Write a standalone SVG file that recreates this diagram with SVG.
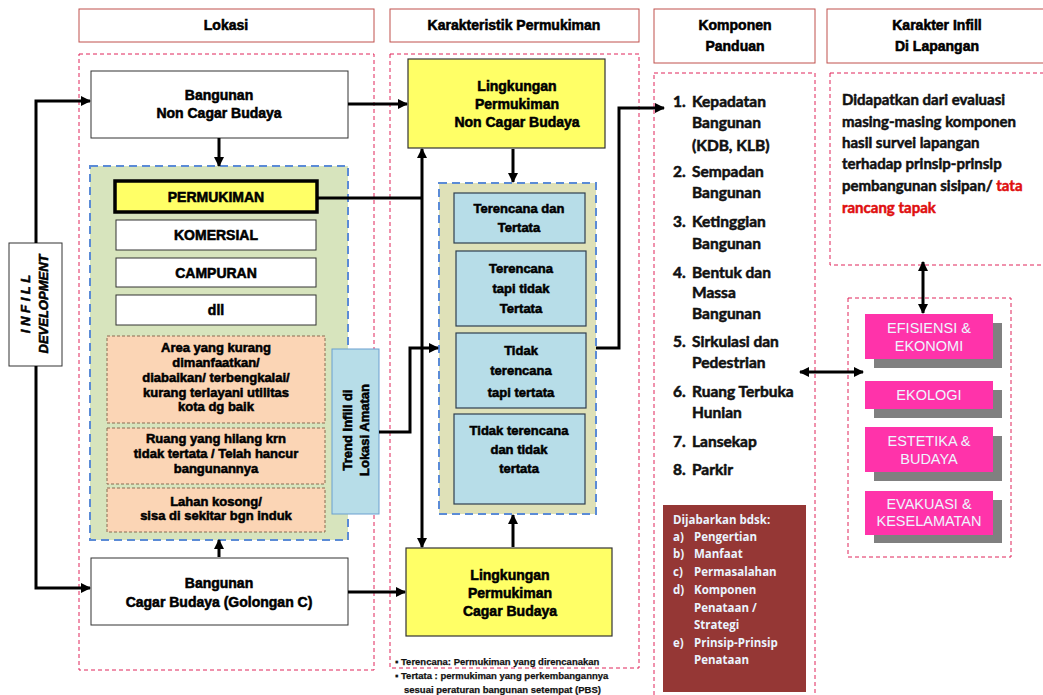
<svg xmlns="http://www.w3.org/2000/svg" width="1043" height="695" viewBox="0 0 1043 695">
  <style>
    .bg { fill: #ffffff; }
    .head { fill: #ffffff; stroke: #c0504d; stroke-width: 1; }
    .zone { fill: none; stroke: #e0245a; stroke-width: 1; stroke-dasharray: 4 3; }
    .bluezone { stroke: #5b8bd6; stroke-width: 2; stroke-dasharray: 8 5; }
    .box { fill: #ffffff; stroke: #333333; stroke-width: 1; }
    .yellow { fill: #ffff66; stroke: #333333; stroke-width: 1.2; }
    .peach { fill: #fbd5b5; stroke: #8a6a50; stroke-width: 1; stroke-dasharray: 3 2; }
    .lblue { fill: #b7dde8; stroke: #2f3f4f; stroke-width: 1.2; }
    .pink { fill: #ff33aa; }
    .shadow { fill: #808080; }
    .t { font-family: "Liberation Sans", Arial, sans-serif; font-weight: bold; fill: #000000; stroke: #000000; stroke-width: 0.55; text-anchor: middle; }
    .h { font-size: 14px; }
    .n { font-size: 14px; }
    .s { font-size: 13px; }
    .list { font-family: Lato, "Liberation Sans", sans-serif; font-weight: bold; font-size: 15.5px; fill: #111111; stroke: #111111; stroke-width: 0.55; }
    .info { font-family: Lato, "Liberation Sans", sans-serif; font-weight: bold; font-size: 15px; fill: #111111; stroke: #111111; stroke-width: 0.5; }
    .red { fill: #e01010; stroke: #e01010; }
    .note { font-family: "Liberation Sans", Arial, sans-serif; font-weight: bold; font-size: 9.5px; fill: #111111; stroke: #111111; stroke-width: 0.25; }
    .sub { font-family: "Open Sans", "Liberation Sans", sans-serif; font-weight: bold; font-size: 11.5px; fill: #eaf4ff; }
    .val { font-family: "Liberation Sans", Arial, sans-serif; font-size: 14.5px; fill: #eef6ff; text-anchor: middle; }
    .wire { fill: none; stroke: #000000; stroke-width: 3; }
  </style>
  <defs>
    <marker id="arrow" viewBox="0 0 10 10" refX="9" refY="5" markerWidth="10" markerHeight="10" markerUnits="userSpaceOnUse" orient="auto-start-reverse">
      <path d="M0,0 L10,5 L0,10 z" fill="#000000"/>
    </marker>
  </defs>

  <rect class="bg" x="0" y="0" width="1043" height="695"/>

  <!-- column headers -->
  <g id="header-lokasi">
    <rect class="head" x="79" y="9" width="295" height="33"/>
    <text class="t h" x="226" y="30">Lokasi</text>
  </g>
  <g id="header-karakteristik">
    <rect class="head" x="390" y="9" width="249" height="33"/>
    <text class="t h" x="514" y="30">Karakteristik Permukiman</text>
  </g>
  <g id="header-komponen">
    <rect class="head" x="654" y="9" width="161" height="54"/>
    <text class="t h" x="735" y="30">Komponen</text>
    <text class="t h" x="735" y="51">Panduan</text>
  </g>
  <g id="header-karakter-infill">
    <rect class="head" x="827" y="9" width="230" height="54"/>
    <text class="t h" x="937" y="30">Karakter Infill</text>
    <text class="t h" x="937" y="51">Di Lapangan</text>
  </g>

  <!-- dashed column frames -->
  <g id="frames">
    <rect class="zone" x="79" y="54" width="295" height="616"/>
    <rect class="zone" x="390" y="54" width="249" height="614"/>
    <rect class="zone" x="654" y="73" width="161" height="640"/>
    <rect class="zone" x="830" y="73" width="230" height="192"/>
    <rect class="zone" x="848" y="298" width="163" height="259"/>
  </g>

  <!-- left column: location -->
  <g id="infill-development">
    <rect class="box" x="9" y="243" width="53" height="123"/>
    <text class="t" font-size="13" font-style="italic" transform="translate(30,304) rotate(-90)">I N F I L L</text>
    <text class="t" font-size="13" font-style="italic" transform="translate(48,304) rotate(-90)">DEVELOPMENT</text>
  </g>

  <g id="bangunan-non-cagar">
    <rect class="box" x="91" y="71" width="257" height="67"/>
    <text class="t n" x="219" y="100">Bangunan</text>
    <text class="t n" x="219" y="118">Non Cagar Budaya</text>
  </g>

  <g id="jenis-lahan">
    <rect class="bluezone" fill="#d7e4bd" x="90" y="166" width="258" height="374"/>
  </g>
  <g id="permukiman">
    <rect fill="#ffff66" stroke="#000000" stroke-width="3.5" x="115" y="181" width="202" height="31"/>
    <text class="t n" x="216" y="202">PERMUKIMAN</text>
  </g>
  <g id="komersial">
    <rect class="box" x="116" y="220" width="200" height="30"/>
    <text class="t n" x="216" y="240">KOMERSIAL</text>
  </g>
  <g id="campuran">
    <rect class="box" x="116" y="258" width="200" height="29"/>
    <text class="t n" x="216" y="278">CAMPURAN</text>
  </g>
  <g id="dll">
    <rect class="box" x="116" y="295" width="200" height="30"/>
    <text class="t n" x="216" y="315">dll</text>
  </g>
  <g id="area-kurang">
    <rect class="peach" x="107" y="336" width="218" height="87"/>
    <text class="t s" x="216" y="352">Area yang kurang</text>
    <text class="t s" x="216" y="367">dimanfaatkan/</text>
    <text class="t s" x="216" y="382">diabaikan/ terbengkalai/</text>
    <text class="t s" x="216" y="397">kurang terlayani utilitas</text>
    <text class="t s" x="216" y="411">kota dg baik</text>
  </g>
  <g id="ruang-hilang">
    <rect class="peach" x="107" y="428" width="218" height="56"/>
    <text class="t s" x="216" y="443">Ruang yang hilang krn</text>
    <text class="t s" x="216" y="458">tidak tertata / Telah hancur</text>
    <text class="t s" x="216" y="473">bangunannya</text>
  </g>
  <g id="lahan-kosong">
    <rect class="peach" x="107" y="488" width="218" height="44"/>
    <text class="t s" x="216" y="506">Lahan kosong/</text>
    <text class="t s" x="216" y="520">sisa  di sekitar  bgn induk</text>
  </g>
  <g id="trend-infill">
    <rect fill="#b7dde8" stroke="#6a9fd0" stroke-width="1" x="332" y="349" width="47" height="165"/>
    <text class="t s" transform="translate(352,430) rotate(-90)">Trend Infill di</text>
    <text class="t s" transform="translate(369,430) rotate(-90)">Lokasi Amatan</text>
  </g>

  <g id="bangunan-cagar">
    <rect class="box" x="91" y="558" width="257" height="67"/>
    <text class="t n" x="219" y="588">Bangunan</text>
    <text class="t n" x="219" y="607">Cagar Budaya  (Golongan C)</text>
  </g>

  <!-- middle column: settlement character -->
  <g id="lingkungan-non-cagar">
    <rect class="yellow" x="408" y="59" width="197" height="89"/>
    <text class="t n" x="517" y="91">Lingkungan</text>
    <text class="t n" x="517" y="109">Permukiman</text>
    <text class="t n" x="517" y="127">Non Cagar  Budaya</text>
  </g>

  <g id="tipologi">
    <rect class="bluezone" fill="#dfe1b8" x="439" y="183" width="157" height="331"/>
  </g>
  <g id="terencana-tertata">
    <rect class="lblue" x="454" y="193" width="131" height="50"/>
    <text class="t s" x="519" y="213">Terencana dan</text>
    <text class="t s" x="519" y="232">Tertata</text>
  </g>
  <g id="terencana-tidak-tertata">
    <rect class="lblue" x="456" y="251" width="130" height="75"/>
    <text class="t s" x="521" y="273">Terencana</text>
    <text class="t s" x="521" y="293">tapi tidak</text>
    <text class="t s" x="521" y="313">Tertata</text>
  </g>
  <g id="tidak-terencana-tertata">
    <rect class="lblue" x="456" y="333" width="130" height="75"/>
    <text class="t s" x="521" y="355">Tidak</text>
    <text class="t s" x="521" y="375">terencana</text>
    <text class="t s" x="521" y="397">tapi tertata</text>
  </g>
  <g id="tidak-terencana-tidak-tertata">
    <rect class="lblue" x="454" y="414" width="131" height="90"/>
    <text class="t s" x="519" y="435">Tidak terencana</text>
    <text class="t s" x="519" y="454">dan tidak</text>
    <text class="t s" x="519" y="473">tertata</text>
  </g>

  <g id="lingkungan-cagar">
    <rect class="yellow" x="406" y="548" width="206" height="88"/>
    <text class="t n" x="510" y="580">Lingkungan</text>
    <text class="t n" x="510" y="598">Permukiman</text>
    <text class="t n" x="510" y="616">Cagar Budaya</text>
  </g>

  <g id="keterangan">
    <text class="note" x="395" y="665">▪  Terencana: Permukiman yang direncanakan</text>
    <text class="note" x="395" y="679">▪  Tertata : permukiman yang perkembangannya</text>
    <text class="note" x="404" y="693">sesuai peraturan bangunan setempat (PBS)</text>
  </g>

  <!-- third column: guideline components -->
  <g id="komponen-list">
    <text class="list" x="673" y="107">1.</text>
    <text class="list" x="692" y="107">Kepadatan</text>
    <text class="list" x="692" y="128">Bangunan</text>
    <text class="list" x="692" y="151">(KDB, KLB)</text>
    <text class="list" x="673" y="177">2.</text>
    <text class="list" x="692" y="177">Sempadan</text>
    <text class="list" x="692" y="198">Bangunan</text>
    <text class="list" x="673" y="227">3.</text>
    <text class="list" x="692" y="227">Ketinggian</text>
    <text class="list" x="692" y="249">Bangunan</text>
    <text class="list" x="673" y="278">4.</text>
    <text class="list" x="692" y="278">Bentuk dan</text>
    <text class="list" x="692" y="298">Massa</text>
    <text class="list" x="692" y="319">Bangunan</text>
    <text class="list" x="673" y="347">5.</text>
    <text class="list" x="692" y="347">Sirkulasi dan</text>
    <text class="list" x="692" y="368">Pedestrian</text>
    <text class="list" x="673" y="397">6.</text>
    <text class="list" x="692" y="397">Ruang Terbuka</text>
    <text class="list" x="692" y="418">Hunian</text>
    <text class="list" x="673" y="447">7.</text>
    <text class="list" x="692" y="447">Lansekap</text>
    <text class="list" x="673" y="475">8.</text>
    <text class="list" x="692" y="475">Parkir</text>
  </g>

  <g id="dijabarkan">
    <rect fill="#953735" x="663" y="505" width="143" height="187"/>
    <text class="sub" x="673" y="524">Dijabarkan  bdsk:</text>
    <text class="sub" x="673" y="541">a)</text><text class="sub" x="694" y="541">Pengertian</text>
    <text class="sub" x="673" y="558">b)</text><text class="sub" x="694" y="558">Manfaat</text>
    <text class="sub" x="673" y="576">c)</text><text class="sub" x="694" y="576">Permasalahan</text>
    <text class="sub" x="673" y="594">d)</text><text class="sub" x="694" y="594">Komponen</text>
    <text class="sub" x="694" y="612">Penataan /</text>
    <text class="sub" x="694" y="629">Strategi</text>
    <text class="sub" x="673" y="647">e)</text><text class="sub" x="694" y="647">Prinsip-Prinsip</text>
    <text class="sub" x="694" y="664">Penataan</text>
  </g>

  <!-- fourth column: field infill character -->
  <g id="karakter-infill-text">
    <text class="info" x="842" y="105">Didapatkan dari evaluasi</text>
    <text class="info" x="842" y="127">masing-masing komponen</text>
    <text class="info" x="842" y="148">hasil survei lapangan</text>
    <text class="info" x="842" y="169">terhadap prinsip-prinsip</text>
    <text class="info" x="842" y="191">pembangunan sisipan/ <tspan class="red">tata</tspan></text>
    <text class="info red" x="842" y="213">rancang tapak</text>
  </g>

  <g id="efisiensi">
    <rect class="shadow" x="874" y="323" width="128" height="45"/>
    <rect class="pink" x="865" y="314" width="128" height="45"/>
    <text class="val" x="929" y="333">EFISIENSI &amp;</text>
    <text class="val" x="929" y="351">EKONOMI</text>
  </g>
  <g id="ekologi">
    <rect class="shadow" x="874" y="390" width="128" height="28"/>
    <rect class="pink" x="865" y="381" width="128" height="28"/>
    <text class="val" x="929" y="400">EKOLOGI</text>
  </g>
  <g id="estetika">
    <rect class="shadow" x="874" y="436" width="128" height="45"/>
    <rect class="pink" x="865" y="427" width="128" height="45"/>
    <text class="val" x="929" y="446">ESTETIKA &amp;</text>
    <text class="val" x="929" y="464">BUDAYA</text>
  </g>
  <g id="evakuasi">
    <rect class="shadow" x="874" y="500" width="128" height="43"/>
    <rect class="pink" x="865" y="491" width="128" height="44"/>
    <text class="val" x="929" y="509">EVAKUASI &amp;</text>
    <text class="val" x="929" y="526">KESELAMATAN</text>
  </g>

  <!-- connectors -->
  <g id="connectors">
    <path class="wire" d="M36,243 V101 H90" marker-end="url(#arrow)"/>
    <path class="wire" d="M36,366 V588 H90" marker-end="url(#arrow)"/>
    <path class="wire" d="M219,138 V166" marker-end="url(#arrow)"/>
    <path class="wire" d="M219,557 V540" marker-end="url(#arrow)"/>
    <path class="wire" d="M348,104 H407" marker-end="url(#arrow)"/>
    <path class="wire" d="M348,592 H405" marker-end="url(#arrow)"/>
    <path class="wire" d="M317,198 H422"/>
    <path class="wire" d="M422,198 V149" marker-end="url(#arrow)"/>
    <path class="wire" d="M422,198 V547" marker-end="url(#arrow)"/>
    <path class="wire" d="M513,149 V182" marker-end="url(#arrow)"/>
    <path class="wire" d="M513,547 V515" marker-end="url(#arrow)"/>
    <path class="wire" d="M379,432 H410 V348 H438" marker-end="url(#arrow)"/>
    <path class="wire" d="M596,348 H619 V108 H664" marker-end="url(#arrow)"/>
    <path class="wire" d="M800,372 H863" marker-start="url(#arrow)" marker-end="url(#arrow)"/>
    <path class="wire" d="M923,262 V313" marker-start="url(#arrow)" marker-end="url(#arrow)"/>
  </g>
</svg>
